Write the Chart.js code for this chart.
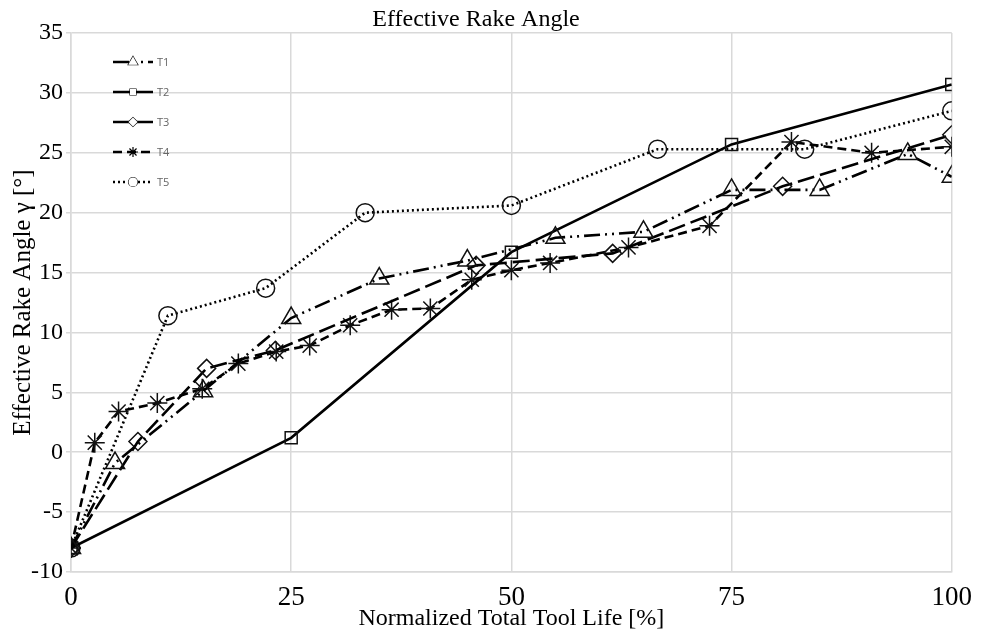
<!DOCTYPE html>
<html>
<head>
<meta charset="utf-8">
<script src="https://cdn.jsdelivr.net/npm/chart.js@4.4.0/dist/chart.umd.min.js"></script>
<style>
  html, body { margin: 0; background: #fff; }
  #wrap { width: 984px; height: 631px; }
</style>
</head>
<body>
<div id="wrap"><canvas id="chart"></canvas></div>
<script>
// values
const seriesNames = ['T1', 'T2', 'T3', 'T4', 'T5'];

const t1X = [0, 5, 15, 25, 35, 45, 55, 65, 75, 85, 95, 100];
const t1Y = [-8, -0.9, 5.1, 11.2, 14.5, 16.0, 17.9, 18.4, 21.9, 21.9, 24.9, 23.0];

const t2X = [0, 25, 50, 75, 100];
const t2Y = [-8, 1.2, 16.7, 25.7, 30.7];

const t3X = [0, 7.6, 15.4, 23.2, 46, 61.5, 80.8, 100];
const t3Y = [-8, 0.9, 7.0, 8.5, 15.6, 16.6, 22.2, 26.5];

const t4X = [0, 2.7, 5.4, 9.8, 14.9, 19, 23.3, 27.1, 31.7, 36.4, 40.8, 45.5, 50, 54.4, 63.3, 72.5, 81.8, 90.9, 100];
const t4Y = [-8, 0.8, 3.4, 4.1, 5.3, 7.4, 8.4, 8.9, 10.6, 11.9, 12.0, 14.4, 15.2, 15.8, 17.1, 18.9, 25.9, 25.0, 25.5];

const t5X = [0, 11, 22.1, 33.4, 50, 66.6, 83.3, 100];
const t5Y = [-8, 11.4, 13.7, 20.0, 20.6, 25.3, 25.3, 28.5];

const xTicks = [0, 25, 50, 75, 100];

const serif = '"Liberation Serif", "Times New Roman", serif';

const toPoints = (xs, ys) => xs.map((x, i) => ({ x, y: ys[i] }));

// per-series look: marker, dash
const looks = [
  { pointStyle: 'triangle', radius: 11, dash: [16, 5, 2, 5, 2, 5] },
  { pointStyle: 'rect', radius: 8.5, dash: [] },
  { pointStyle: 'rectRot', radius: 9, dash: [17, 6] },
  { pointStyle: 'star', radius: 10, dash: [9, 5] },
  { pointStyle: 'circle', radius: 9, dash: [2, 3] },
];

const allData = [toPoints(t1X, t1Y), toPoints(t2X, t2Y), toPoints(t3X, t3Y), toPoints(t4X, t4Y), toPoints(t5X, t5Y)];

const datasets = allData.map((data, i) => ({
  label: seriesNames[i],
  data,
  borderColor: '#000',
  borderWidth: 2.6,
  borderDash: looks[i].dash,
  pointStyle: looks[i].pointStyle,
  pointRadius: looks[i].radius,
  pointBorderWidth: 1.5,
  pointBorderColor: '#111',
  pointBackgroundColor: 'rgba(255,255,255,0)',
  tension: 0,
  fill: false,
}));

// legend drawn inside the plot area, top-left, stacked vertically
const insideLegend = {
  id: 'insideLegend',
  afterDraw(chart) {
    const { ctx, chartArea } = chart;
    ctx.save();
    chart.data.datasets.forEach((ds, i) => {
      const y = chartArea.top + 29 + i * 30;
      const x0 = chartArea.left + 42;
      const x1 = x0 + 40;
      ctx.strokeStyle = '#000';
      ctx.lineWidth = 2.5;
      ctx.setLineDash(ds.borderDash);
      ctx.beginPath();
      ctx.moveTo(x0, y);
      ctx.lineTo(x1, y);
      ctx.stroke();
      ctx.setLineDash([]);
      ctx.fillStyle = '#fff';
      ctx.strokeStyle = '#000';
      ctx.lineWidth = 1.2;
      Chart.helpers.drawPoint(ctx, { pointStyle: ds.pointStyle, radius: ds.pointRadius * 0.5, rotation: 0, borderWidth: 1.2 }, (x0 + x1) / 2, y);
      ctx.fill();
      ctx.fillStyle = '#666';
      ctx.font = '11px "Open Sans", sans-serif';
      ctx.textBaseline = 'middle';
      ctx.fillText(ds.label, x1 + 4, y + 1);
    });
    ctx.restore();
  },
};

new Chart(document.getElementById('chart'), {
  type: 'line',
  data: { datasets },
  plugins: [insideLegend],
  options: {
    responsive: true,
    maintainAspectRatio: false,
    animation: false,
    layout: { padding: { left: 0, right: 32, top: 0, bottom: 0 } },
    plugins: {
      legend: { display: false },
      tooltip: { enabled: false },
      title: {
        display: true,
        text: 'Effective Rake Angle',
        color: '#000',
        font: { family: serif, size: 24, weight: 'normal', lineHeight: 1 },
        padding: { top: 8, bottom: 1 },
      },
    },
    scales: {
      x: {
        type: 'linear',
        min: 0,
        max: 100,
        afterBuildTicks: (scale) => { scale.ticks = xTicks.map((v) => ({ value: v })); },
        grid: { color: '#d9d9d9', lineWidth: 1.5, drawTicks: false },
        border: { color: '#d9d9d9', width: 1.5 },
        ticks: { color: '#000', padding: 12, font: { family: serif, size: 27, lineHeight: 1 } },
        title: {
          display: true,
          text: 'Normalized Total Tool Life [%]',
          color: '#000',
          font: { family: serif, size: 24, lineHeight: 1 },
          padding: { top: 0, bottom: 0 },
        },
        afterFit: (scale) => { scale.height = 59; },
      },
      y: {
        min: -10,
        max: 35,
        grid: { color: '#d9d9d9', lineWidth: 1.5, drawTicks: true, tickLength: 5 },
        border: { color: '#d9d9d9', width: 1.5 },
        ticks: { stepSize: 5, color: '#000', padding: 3, font: { family: serif, size: 24 } },
        title: {
          display: true,
          text: 'Effective Rake Angle γ [°]',
          color: '#000',
          font: { family: serif, size: 25, lineHeight: 1 },
          padding: { top: 11, bottom: 0 },
        },
        afterFit: (scale) => { scale.width = 71; },
      },
    },
  },
});
</script>
</body>
</html>
